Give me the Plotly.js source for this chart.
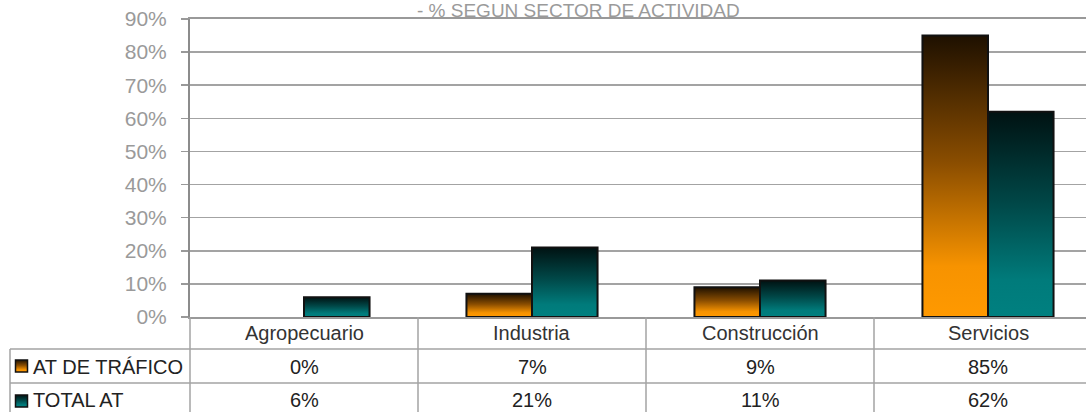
<!DOCTYPE html>
<html>
<head>
<meta charset="utf-8">
<script src="https://cdn.plot.ly/plotly-3.0.1.min.js"></script>
<style>
  html, body { margin: 0; padding: 0; background: #fff; }
  #chart { width: 1086px; height: 412px; }
</style>
</head>
<body>
<svg width="0" height="0" style="position:absolute">
  <defs>
    <linearGradient id="gOrange" x1="0" y1="0" x2="0" y2="1">
      <stop offset="0" stop-color="#1e1000"/>
      <stop offset="0.45" stop-color="#8a4d00"/>
      <stop offset="0.82" stop-color="#f79300"/>
      <stop offset="1" stop-color="#ff9900"/>
    </linearGradient>
    <linearGradient id="gTeal" x1="0" y1="0" x2="0" y2="1">
      <stop offset="0" stop-color="#001212"/>
      <stop offset="0.45" stop-color="#004848"/>
      <stop offset="0.82" stop-color="#007b7b"/>
      <stop offset="1" stop-color="#008080"/>
    </linearGradient>
  </defs>
</svg>
<div id="chart"></div>
<script>
// ---- data ----
const categories = ["Agropecuario", "Industria", "Construcción", "Servicios"];
const seriesNames = ["AT DE TRÁFICO", "TOTAL AT"];
const atTrafico = [0, 7, 9, 85];   // %
const totalAT = [6, 21, 11, 62];   // %
const titleText = "- % SEGUN SECTOR DE ACTIVIDAD";

// ---- geometry helpers (layout only) ----
const W = 1086, H = 412;
const mL = 190, mT = 19, mB = 95, mR = 0;
const plotW = W - mL - mR, plotH = H - mT - mB;
const px2py = y => (H - mB - y) / plotH;     // pixel y -> paper y
const px2px = x => (x - mL) / plotW;         // pixel x -> paper x

const font = "Liberation Sans, Arial, sans-serif";
const lineCol = "#a3a3a3";
const seriesColors = ["#ff9900", "#008080"];
const gradIds = ["gOrange", "gTeal"];

const traces = [atTrafico, totalAT].map((vals, i) => ({
  type: "bar",
  name: seriesNames[i],
  x: categories,
  y: vals.map(v => v / 100),
  marker: { color: seriesColors[i], line: { color: "#111", width: vals.map(v => v > 0 ? 2 : 0) } },
  hoverinfo: "skip"
}));

const row1Y = px2py(349), row2Y = px2py(383), bottomY = px2py(420);
const leftX = px2px(10);

const shapes = [];
[row1Y, row2Y].forEach(y => shapes.push({
  type: "line", xref: "paper", yref: "paper", x0: leftX, x1: 1, y0: y, y1: y,
  line: { color: lineCol, width: 1.5 }
}));
shapes.push({ type: "line", xref: "paper", yref: "paper", x0: leftX, x1: leftX, y0: row1Y, y1: bottomY,
  line: { color: lineCol, width: 1.5 } });
shapes.push({ type: "line", xref: "paper", yref: "paper", x0: 0, x1: 0, y0: 0, y1: bottomY,
  line: { color: lineCol, width: 1.5 } });
for (let i = 0; i < categories.length; i++) {
  shapes.push({ type: "line", xref: "x", yref: "paper", x0: i + 0.5, x1: i + 0.5, y0: 0, y1: bottomY,
    line: { color: lineCol, width: 1.5 } });
}
const keyStart = shapes.length;
[366, 401].forEach((cy, i) => {
  shapes.push({ type: "rect", xref: "paper", yref: "paper",
    x0: px2px(15.5), x1: px2px(27.5), y0: px2py(cy - 6), y1: px2py(cy + 6),
    fillcolor: seriesColors[i], line: { color: "#111", width: 1.5 } });
});

const annotations = [];
annotations.push({ text: titleText, xref: "paper", yref: "paper", x: px2px(578), y: px2py(10.5),
  xanchor: "center", yanchor: "middle", showarrow: false, borderpad: 0,
  font: { family: font, size: 19, color: "#9a9a9a" } });
categories.forEach((c, i) => {
  annotations.push({ text: c, xref: "x", yref: "paper", x: i, y: px2py(333),
    xanchor: "center", yanchor: "middle", showarrow: false, font: { family: font, size: 20, color: "#333" } });
  annotations.push({ text: atTrafico[i] + "%", xref: "x", yref: "paper", x: i, y: px2py(366.5),
    xanchor: "center", yanchor: "middle", showarrow: false, font: { family: font, size: 20, color: "#222" } });
  annotations.push({ text: totalAT[i] + "%", xref: "x", yref: "paper", x: i, y: px2py(400),
    xanchor: "center", yanchor: "middle", showarrow: false, font: { family: font, size: 20, color: "#222" } });
});
seriesNames.forEach((n, i) => {
  annotations.push({ text: n, xref: "paper", yref: "paper", x: px2px(31), y: px2py([366.5, 400][i]),
    xanchor: "left", yanchor: "middle", showarrow: false, font: { family: font, size: 20, color: "#222" } });
});

const layout = {
  width: W, height: H,
  margin: { l: mL, r: mR, t: mT, b: mB, pad: 0 },
  paper_bgcolor: "#fff", plot_bgcolor: "#fff",
  showlegend: false,
  barmode: "group", bargap: 0.425, bargroupgap: 0,
  xaxis: {
    type: "category", range: [-0.5, -0.5 + plotW / 228],
    showticklabels: false, ticks: "", showgrid: false, zeroline: false,
    showline: true, mirror: true, linecolor: "#999", linewidth: 2, fixedrange: true
  },
  yaxis: {
    range: [0, 0.9], dtick: 0.1, tickformat: ".0%",
    ticks: "outside", ticklen: 7, tickwidth: 1.5, tickcolor: "#999",
    ticklabelstandoff: 10,
    tickfont: { family: font, size: 21, color: "#9a9a9a" },
    showgrid: true, gridcolor: lineCol, gridwidth: 1.5, zeroline: false,
    showline: true, linecolor: "#8c8c8c", linewidth: 2, fixedrange: true
  },
  shapes: shapes,
  annotations: annotations
};

Plotly.newPlot("chart", traces, layout, { displayModeBar: false, staticPlot: true }).then(gd => {
  const groups = gd.querySelectorAll(".barlayer .trace.bars");
  groups.forEach((g, i) => {
    g.querySelectorAll(".point path").forEach(p => p.style.setProperty("fill", "url(#" + gradIds[i] + ")"));
  });
  gd.querySelectorAll(".shapelayer path").forEach(p => {
    const idx = +p.getAttribute("data-index");
    if (idx >= keyStart && idx < keyStart + 2) {
      p.style.setProperty("fill", "url(#" + gradIds[idx - keyStart] + ")");
      p.style.setProperty("fill-opacity", "1");
    }
  });
});
</script>
</body>
</html>
